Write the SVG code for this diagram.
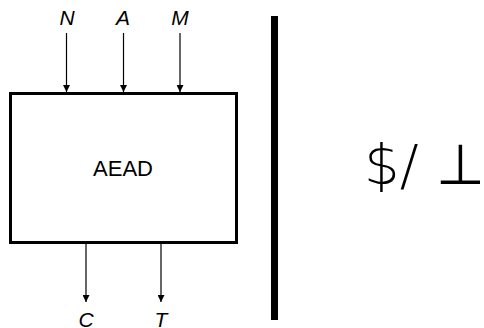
<svg xmlns="http://www.w3.org/2000/svg" width="484" height="328" viewBox="0 0 484 328">
<style>
.lbl{font-family:"Liberation Sans",Arial,sans-serif;font-style:italic;font-size:21px;fill:#000;text-anchor:middle}
.ln{stroke:#000;stroke-width:1.2;fill:none}
</style>
<defs>
<marker id="ah" viewBox="0 0 10 10" refX="10" refY="5" markerWidth="7" markerHeight="7" markerUnits="userSpaceOnUse" orient="auto"><path d="M0,0 L10,5 L0,10 z" fill="#000"/></marker>
</defs>
<rect width="484" height="328" fill="#fff"/>
<g id="aead">
<rect x="10.5" y="93.5" width="226" height="149" fill="#fff" stroke="#000" stroke-width="3"/>
<text x="123" y="176" font-family="Liberation Sans,Arial,sans-serif" font-size="22" text-anchor="middle">AEAD</text>
</g>
<g id="labels">
<text class="lbl" x="67" y="25">N</text>
<text class="lbl" x="123" y="25">A</text>
<text class="lbl" x="180" y="25">M</text>
<text class="lbl" x="86" y="327">C</text>
<text class="lbl" x="161" y="327">T</text>
</g>
<g id="connectors">
<line class="ln" x1="66.5" y1="33" x2="66.5" y2="92" marker-end="url(#ah)"/>
<line class="ln" x1="123.5" y1="33" x2="123.5" y2="92" marker-end="url(#ah)"/>
<line class="ln" x1="180" y1="33" x2="180" y2="92" marker-end="url(#ah)"/>
<line class="ln" x1="86" y1="244" x2="86" y2="302" marker-end="url(#ah)"/>
<line class="ln" x1="161" y1="244" x2="161" y2="302" marker-end="url(#ah)"/>
</g>
<g id="divider">
<rect x="271" y="16" width="7" height="304" fill="#000"/>
</g>
<g id="result">
<text x="364" y="184" font-family="DejaVu Sans,sans-serif" font-size="56" font-weight="200">$/ ⊥</text>
</g>
</svg>
